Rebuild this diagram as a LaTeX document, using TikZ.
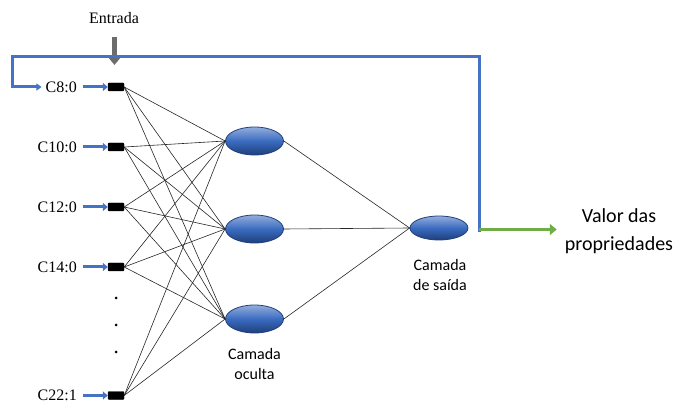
\documentclass[tikz,border=0pt]{standalone}
\usepackage{fontspec}
\setmainfont{Liberation Serif}
\newfontfamily\calib{Carlito}
\usetikzlibrary{arrows.meta,shapes.geometric}
\definecolor{ablue}{HTML}{4472C4}
\definecolor{agreen}{HTML}{70AD47}
\definecolor{nblue}{HTML}{3A6BC0}
\definecolor{ndark}{HTML}{1F3F7A}
\begin{document}
\begin{tikzpicture}[x=1pt,y=-1pt,
  inbox/.style={draw=black,fill=black,rounded corners=1pt,minimum width=16pt,minimum height=8pt,inner sep=0pt},
  neuron/.style={ellipse,draw=ndark,line width=0.8pt,top color=nblue!55!white,bottom color=ndark,middle color=nblue,minimum width=58pt,minimum height=28pt,inner sep=0pt},
  outneuron/.style={neuron,minimum height=24pt},
  lbl/.style={font=\fontsize{16}{16}\selectfont,anchor=east,inner sep=0pt},
  cal/.style={font=\calib\fontsize{16}{20}\selectfont,align=center,inner sep=0pt},
  smallarrow/.style={ablue,line width=3pt,-{Triangle[length=5pt,width=8pt]}},
  link/.style={black!85,line width=0.6pt},
  dotn/.style={circle,fill=black,inner sep=0pt,minimum size=3pt}
]
\useasboundingbox (0,0) rectangle (683,403);
% inputs
\foreach \n/\t/\y in {a/C8:0/87, b/C10:0/147, c/C12:0/207, d/C14:0/267, e/C22:1/395.5}{
  \node[lbl] (l\n) at (77,\y) {\t};
  \node[inbox] (i\n) at (116,\y) {};
  \draw[smallarrow] (l\n.east) ++(6,0) coordinate (s\n) -- (i\n.west);
}
\node[dotn] (d1) at (116,298) {};
\node[dotn] (d2) at (116,325) {};
\node[dotn] (d3) at (116,352) {};
% hidden
\node[neuron] (h1) at (254.5,141) {};
\node[neuron] (h2) at (254.5,229) {};
\node[neuron] (h3) at (254.5,319) {};
\node[outneuron] (o) at (439,228) {};
% links
\foreach \n in {a,b,c,d,e}{
  \foreach \h in {h1,h2,h3}{
    \draw[link] (i\n.east) -- (\h.west);
  }
}
\foreach \h in {h1,h2,h3}{ \draw[link] (\h.east) -- (o.west); }
% labels
\node[cal] (co) at (254.5,364) {Camada\\oculta};
\node[cal] (cs) at (440,275) {Camada\\de saída};
\node[cal,font=\calib\fontsize{20}{28}\selectfont] (val) at (619,231) {Valor das\\propriedades};
\node[font=\fontsize{16}{16}\selectfont,inner sep=0pt] (ent) at (114,18) {Entrada};
% entrada arrow
\coordinate (et) at (114.5,37);
\coordinate (eh) at (114.5,65);
\draw[gray!85!black,line width=5.5pt,-{Triangle[length=7pt,width=11pt]}] (et) -- (eh);
% feedback
\coordinate (fb) at (479,232);
\coordinate (gs) at (479,229.5);
\draw[ablue,line width=3pt,line join=miter,-{Triangle[length=5pt,width=7pt]}] (fb) |- (12,56.5) |- ([xshift=-4pt]la.west);
% green output arrow
\draw[agreen,line width=3.5pt,-{Triangle[length=7pt,width=11pt]}] (gs) -- ([xshift=-8pt]val.west |- gs);
\end{tikzpicture}
\end{document}
